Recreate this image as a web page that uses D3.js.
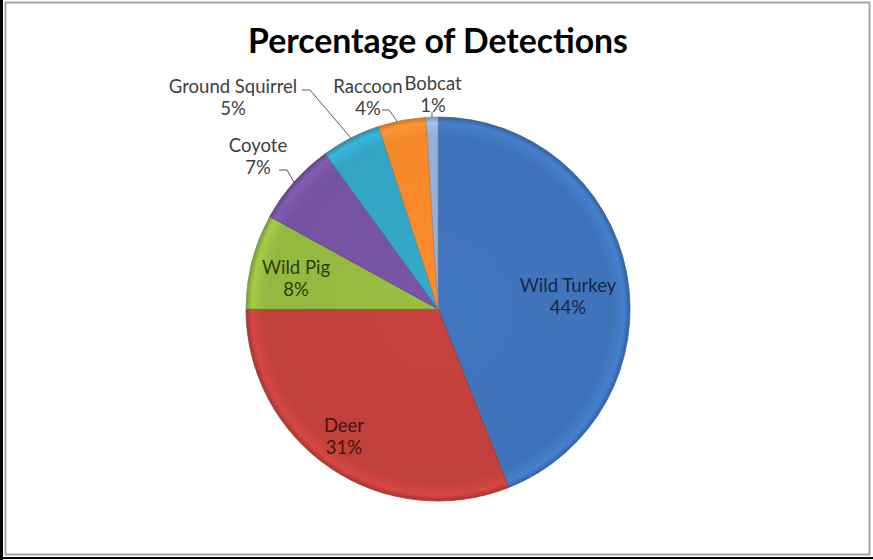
<!DOCTYPE html>
<html><head><meta charset="utf-8">
<script src="https://cdn.jsdelivr.net/npm/d3@7"></script>
<style>body{margin:0;background:#fff}svg{display:block}</style>
</head><body>
<svg id="c" width="873" height="560"></svg>
<script>
const categories = ["Wild Turkey","Deer","Wild Pig","Coyote","Ground Squirrel","Raccoon","Bobcat"];
const values = [44,31,8,7,5,4,1];
const percentLabels = ["44%","31%","8%","7%","5%","4%","1%"];
const colors = ["#3f73b9","#c0403c","#93b83f","#7552a1","#33a4c4","#f5882b","#93aed8"];
const labelColors = ["#14284a","#4a1210","#2e3d0e","#404040","#404040","#404040","#404040"];
const title = "Percentage of Detections";

const svg = d3.select("#c");
const W = 873, H = 560;
// frame
svg.append("rect").attr("x",0).attr("y",0).attr("width",W).attr("height",H).attr("fill","#fff");
svg.append("rect").attr("x",5.5).attr("y",2.5).attr("width",864).attr("height",552).attr("fill","none").attr("stroke","#a6a6a6").attr("stroke-width",2);
svg.append("line").attr("x1",1.5).attr("y1",0).attr("x2",1.5).attr("y2",H).attr("stroke","#000").attr("stroke-width",3);
svg.append("line").attr("x1",0).attr("y1",558).attr("x2",W).attr("y2",558).attr("stroke","#000").attr("stroke-width",2);

const cx = 438, cy = 309, R = 192;
const defs = svg.append("defs");
colors.forEach((c,i)=>{
  const g = defs.append("radialGradient").attr("id","g"+i)
    .attr("gradientUnits","userSpaceOnUse").attr("cx",0).attr("cy",0).attr("r",R);
  g.append("stop").attr("offset","0%").attr("stop-color",d3.color(c).brighter(0.1).formatHex());
  g.append("stop").attr("offset","90%").attr("stop-color",c);
  g.append("stop").attr("offset","97%").attr("stop-color",d3.color(c).brighter(0.3).formatHex());
  g.append("stop").attr("offset","100%").attr("stop-color",d3.color(c).darker(0.5).formatHex());
});

const pie = d3.pie().sort(null).value(d=>d)(values);
const arc = d3.arc().innerRadius(0).outerRadius(R);
const gp = svg.append("g").attr("transform",`translate(${cx},${cy})`);
gp.selectAll("path").data(pie).join("path")
  .attr("d",arc)
  .attr("fill",(d,i)=>`url(#g${i})`)
  .attr("stroke",(d,i)=>d3.color(colors[i]).darker(0.5).formatHex())
  .attr("stroke-width",0.8);

// title
const t = svg.append("text").attr("x",cx).attr("y",53).attr("text-anchor","middle")
  .attr("font-family","Lato, 'Open Sans', sans-serif").attr("font-weight","bold")
  .attr("font-size",30).attr("fill","#000").text(title);
const tw = t.node().getComputedTextLength();
t.attr("font-size",30*380/tw);

const labelPos = [[568,292],[344,432],[296,274],[258,152],[233,93],[368,93],[433,90]];
const fontFam = "Lato, 'Open Sans', sans-serif";
const lbl = svg.append("g");
categories.forEach((c,i)=>{
  const [x,y] = labelPos[i];
  const tt = lbl.append("text").attr("x",x).attr("y",y).attr("text-anchor","middle")
    .attr("font-family",fontFam).attr("font-size",18.5).attr("fill",labelColors[i]);
  tt.append("tspan").attr("x",x).attr("y",y).text(c);
  tt.append("tspan").attr("x",x).attr("y",y+22).text(percentLabels[i]);
});

function rim(i, f){
  const d = pie[i]; const a = d.startAngle + (d.endAngle-d.startAngle)*f;
  return [cx + R*Math.sin(a), cy - R*Math.cos(a)];
}
const leaders = [
  [3, [[279,170],[287,170]], 0.5],
  [4, [[302,90],[310,90]], 0.5],
  [5, [[382,110],[389,110]], 0.4]
];
leaders.forEach(([i,pts,f])=>{
  const e = rim(i,f);
  svg.append("path").attr("d",d3.line()([...pts,e])).attr("fill","none")
    .attr("stroke","#595959").attr("stroke-width",1);
});
const b = rim(6,0.5);
svg.append("line").attr("x1",b[0]).attr("y1",b[1]-5).attr("x2",b[0]).attr("y2",b[1]).attr("stroke","#595959");
</script>
</body></html>
